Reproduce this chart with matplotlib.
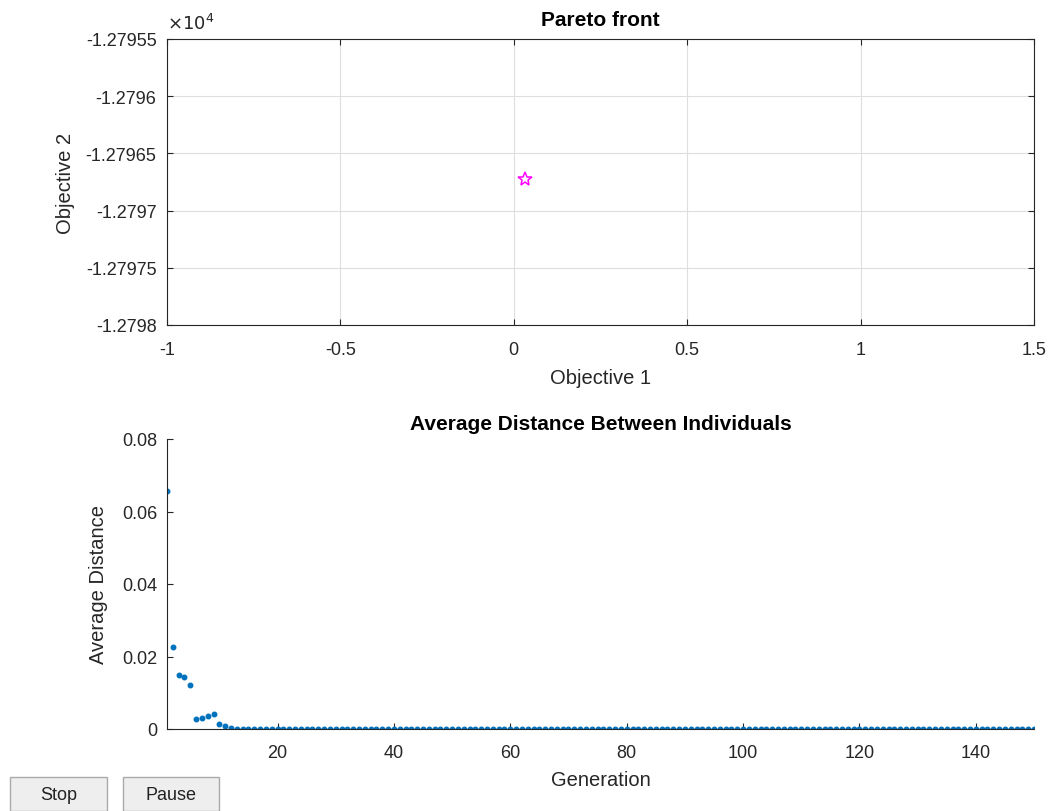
import matplotlib
matplotlib.use("Agg")
import matplotlib.pyplot as plt
from matplotlib.patches import Rectangle
from matplotlib.ticker import FixedLocator, FuncFormatter

plt.rcParams["font.family"] = ["Liberation Sans", "DejaVu Sans"]

# ---------------------------------------------------------------------------
# Data
# ---------------------------------------------------------------------------

# Pareto front (single point)
pareto_obj1 = [0.032]
pareto_obj2 = [-12796.72]

pareto_xticks = [-1, -0.5, 0, 0.5, 1, 1.5]
pareto_yticks = [-12798.0, -12797.5, -12797.0, -12796.5, -12796.0, -12795.5]

# Average distance between individuals, generations 1..150
avg_dist_head = [0.0657, 0.0226, 0.0149, 0.0143, 0.0121, 0.0028, 0.0031,
                 0.0035, 0.0041, 0.0014, 0.0007, 0.0003, 0.0001]
avg_dist_tail = [
    0, 0, 0, 0, 0, 0, 0, 0, 0, 0, 0, 0, 0, 0, 0, 0, 0, 0, 0, 0,
    0, 0, 0, 0, 0, 0, 0, 0, 0, 0, 0, 0, 0, 0, 0, 0, 0, 0, 0, 0,
    0, 0, 0, 0, 0, 0, 0, 0, 0, 0, 0, 0, 0, 0, 0, 0, 0, 0, 0, 0,
    0, 0, 0, 0, 0, 0, 0, 0, 0, 0, 0, 0, 0, 0, 0, 0, 0, 0, 0, 0,
    0, 0, 0, 0, 0, 0, 0, 0, 0, 0, 0, 0, 0, 0, 0, 0, 0, 0, 0, 0,
    0, 0, 0, 0, 0, 0, 0, 0, 0, 0, 0, 0, 0, 0, 0, 0, 0, 0, 0, 0,
    0, 0, 0, 0, 0, 0, 0, 0, 0, 0, 0, 0, 0, 0, 0, 0, 0,
]
avg_dist = avg_dist_head + avg_dist_tail
generations = list(range(1, len(avg_dist) + 1))

dist_xticks = [20, 40, 60, 80, 100, 120, 140]
dist_yticks = [0, 0.02, 0.04, 0.06, 0.08]

# ---------------------------------------------------------------------------
# Figure
# ---------------------------------------------------------------------------

W, H = 1050, 812
fig = plt.figure(figsize=(W / 100, H / 100), dpi=100)
fig.patch.set_facecolor("white")

tick_color = "#262626"
TICK_FS = 13
LABEL_FS = 14.5
TITLE_FS = 15
label_kw = dict(fontsize=LABEL_FS, color=tick_color)


def ax_rect(left, top, right, bottom):
    return [left / W, 1 - bottom / H, (right - left) / W, (bottom - top) / H]


# --- Pareto front ---
ax1 = fig.add_axes(ax_rect(167, 40, 1034, 326))
ax1.plot(pareto_obj1, pareto_obj2, linestyle="none", marker="*",
         markersize=10, markerfacecolor="none", markeredgecolor="#FF00FF",
         markeredgewidth=1.1)
ax1.set_xlim(-1, 1.5)
ax1.set_ylim(-12798.0, -12795.5)
ax1.xaxis.set_major_locator(FixedLocator(pareto_xticks))
ax1.yaxis.set_major_locator(FixedLocator(pareto_yticks))
ax1.xaxis.set_major_formatter(FuncFormatter(lambda v, p: f"{v:g}"))
ax1.yaxis.set_major_formatter(FuncFormatter(lambda v, p: f"{v / 1e4:.6g}"))
ax1.grid(True, color="#DEDEDE", linewidth=0.8)
ax1.set_axisbelow(True)
ax1.tick_params(direction="in", length=4, labelsize=TICK_FS, colors=tick_color,
                top=True, right=True)
ax1.tick_params(axis="y", pad=7.5)
ax1.tick_params(axis="x", pad=11.5)
for s in ax1.spines.values():
    s.set_color(tick_color)
    s.set_linewidth(0.8)
ax1.set_xlabel("Objective 1", labelpad=7, **label_kw)
ax1.set_ylabel("Objective 2", labelpad=8, **label_kw)
ax1.set_title("Pareto front", fontsize=TITLE_FS, fontweight="bold", pad=10)
ax1.text(0.0, 1.02, r"$\times10^{4}$", transform=ax1.transAxes,
         fontsize=13, color=tick_color, ha="left", va="bottom")

# --- Average distance ---
ax2 = fig.add_axes(ax_rect(167, 440, 1034, 730))
ax2.plot(generations, avg_dist, linestyle="none", marker=".",
         markersize=6.5, color="#0072BD")
ax2.set_xlim(1, 150)
ax2.set_ylim(0, 0.08)
ax2.xaxis.set_major_locator(FixedLocator(dist_xticks))
ax2.yaxis.set_major_locator(FixedLocator(dist_yticks))
ax2.yaxis.set_major_formatter(FuncFormatter(lambda v, p: f"{v:g}"))
ax2.tick_params(direction="in", length=4, labelsize=TICK_FS, colors=tick_color)
ax2.tick_params(axis="y", pad=7)
ax2.tick_params(axis="x", pad=10.5)
ax2.spines["top"].set_visible(False)
ax2.spines["right"].set_visible(False)
for s in ("left", "bottom"):
    ax2.spines[s].set_color(tick_color)
    ax2.spines[s].set_linewidth(0.8)
ax2.set_xlabel("Generation", labelpad=7, **label_kw)
ax2.set_ylabel("Average Distance", labelpad=10, **label_kw)
ax2.set_title("Average Distance Between Individuals", fontsize=TITLE_FS,
              fontweight="bold", pad=7)

# --- Buttons ---
for (left, right), text in [((10, 107), "Stop"), ((123, 219), "Pause")]:
    fig.patches.append(Rectangle((left / W, 0), (right - left) / W, 34 / H,
                                 transform=fig.transFigure,
                                 facecolor="#EEEEEE", edgecolor="#AAAAAA",
                                 linewidth=1.0))
    fig.text((left + right) / 2 / W, 16 / H, text, ha="center", va="center",
             fontsize=13, color="#222222")

fig.savefig("out.png", dpi=100)
